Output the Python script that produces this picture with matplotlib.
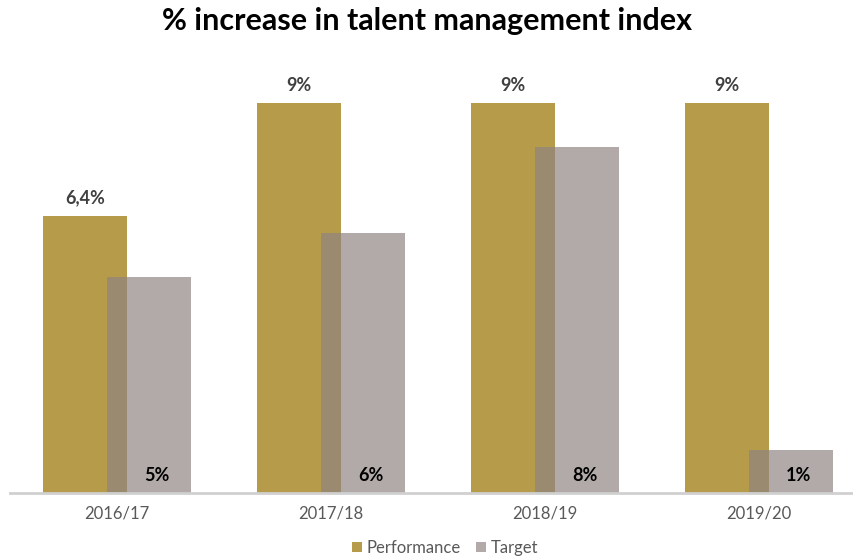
import matplotlib
matplotlib.use('Agg')
import matplotlib.pyplot as plt
import numpy as np

plt.rcParams['font.family'] = ['Lato', 'DejaVu Sans']

# data
years = ['2016/17', '2017/18', '2018/19', '2019/20']
performance = [6.4, 9, 9, 9]
target = [5, 6, 8, 1]

GOLD = '#B59B4A'
GRAY = '#8F8482'
GRAY_ALPHA = 0.69

fig = plt.figure(figsize=(8.54, 5.6), dpi=100)
# axes extends a little past the right edge so the baseline runs off the figure
ax = fig.add_axes([10 / 854, 67 / 560, 856 / 854, 433 / 560])

x = np.arange(len(years))
w = 0.39
off = 0.15

ax.bar(x - off, performance, width=w, color=GOLD, label='Performance', zorder=2)
ax.bar(x + off, target, width=w, color=GRAY, alpha=GRAY_ALPHA, label='Target', zorder=3)

def fmt(v):
    s = f'{v:g}'.replace('.', ',')
    return s + '%'

for xi, v in zip(x, performance):
    ax.text(xi - off, v + 0.42, fmt(v), ha='center', va='center',
            fontsize=13, fontweight='bold', color='#404040')
for xi, v in zip(x, target):
    ax.text(xi + off + 0.035, 0.4, fmt(v), ha='center', va='center',
            fontsize=13, fontweight='bold', color='black', zorder=4)

ax.set_xlim(-0.5, 3.5)
ax.set_ylim(0, 10)
ax.set_xticks(x)
ax.set_xticklabels(years, fontsize=12, color='#595959')
ax.tick_params(axis='x', length=0, pad=9)
ax.set_yticks([])
for s in ['top', 'right', 'left']:
    ax.spines[s].set_visible(False)
ax.spines['bottom'].set_color('#D0D0D0')
ax.spines['bottom'].set_linewidth(2)
ax.spines['bottom'].set_zorder(5)

fig.text(0.5, 1 - 21 / 560, '% increase in talent management index',
         ha='center', va='center', fontsize=22, fontweight='bold', color='black')

fig.legend(loc='center', bbox_to_anchor=(445 / 854, 1 - 548 / 560), ncol=2,
           frameon=False, fontsize=12, handlelength=0.6, handleheight=0.6,
           handletextpad=0.3, columnspacing=0.9, labelcolor='#595959')

fig.savefig('out.png', dpi=100, facecolor='white')
